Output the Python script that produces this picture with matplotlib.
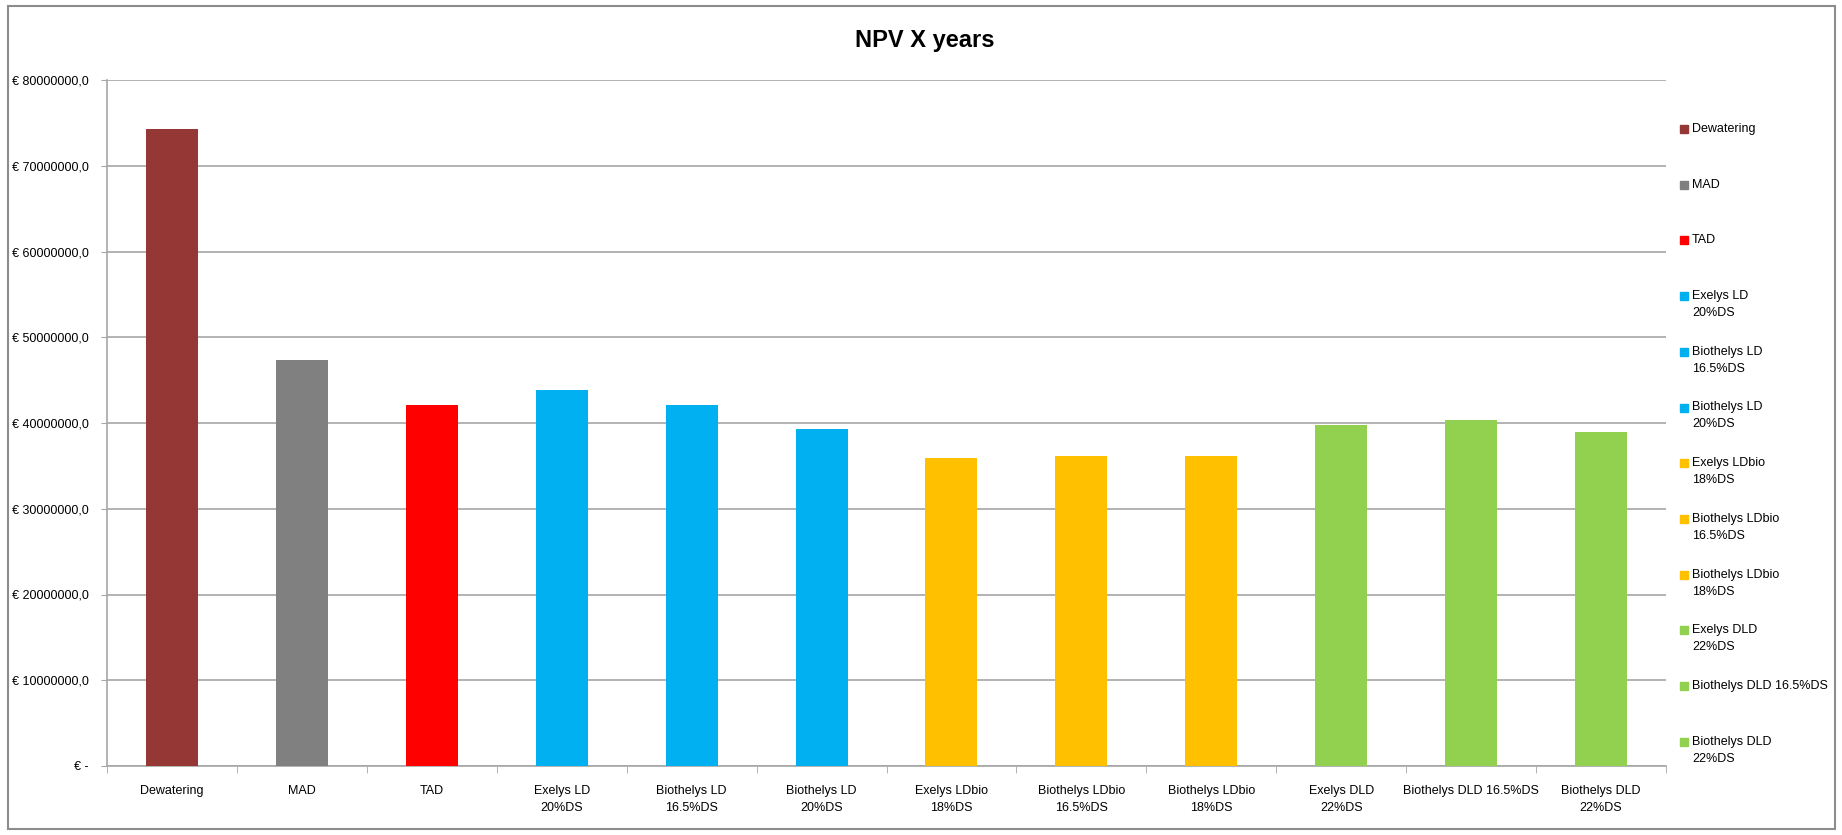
import matplotlib
matplotlib.use("Agg")
import matplotlib.pyplot as plt
from matplotlib.patches import Rectangle
from matplotlib.ticker import FuncFormatter, MultipleLocator
import numpy as np

plt.rcParams['font.family'] = ['Liberation Sans', 'DejaVu Sans']

# Data
categories = ["Dewatering", "MAD", "TAD",
              "Exelys LD\n20%DS", "Biothelys LD\n16.5%DS", "Biothelys LD\n20%DS",
              "Exelys LDbio\n18%DS", "Biothelys LDbio\n16.5%DS", "Biothelys LDbio\n18%DS",
              "Exelys DLD\n22%DS", "Biothelys DLD 16.5%DS", "Biothelys DLD\n22%DS"]
npv = [74.3e6, 47.4e6, 42.1e6,
       43.85e6, 42.1e6, 39.3e6,
       35.9e6, 36.2e6, 36.1e6,
       39.8e6, 40.4e6, 38.95e6]
colors = ["#953735", "#808080", "#FF0000",
          "#00B0F0", "#00B0F0", "#00B0F0",
          "#FFC000", "#FFC000", "#FFC000",
          "#92D050", "#92D050", "#92D050"]

grid_col = "#a6a6a6"
fs = 9

fig = plt.figure(figsize=(18.42, 8.35), dpi=100)
ax = fig.add_axes([107 / 1842, 1 - 766 / 835, (1666 - 107) / 1842, (766 - 80) / 835])

x = np.arange(len(categories))
ax.bar(x, npv, width=0.4, color=colors, zorder=3)

ax.set_xlim(-0.5, len(categories) - 0.5)
ax.set_ylim(0, 80e6)
ax.yaxis.set_major_locator(MultipleLocator(10e6))


def euro(v, pos):
    if v == 0:
        return "€ -"
    return "€ " + f"{v:.1f}".replace(".", ",")


ax.yaxis.set_major_formatter(FuncFormatter(euro))
ax.grid(axis="y", color=grid_col, linewidth=1.2, zorder=0)

ax.set_xticks(x)
ax.set_xticklabels(categories, fontsize=fs, linespacing=1.55)
ax.set_xticks(np.arange(-0.5, len(categories)), minor=True)
ax.tick_params(axis="x", which="major", length=0, pad=14)
ax.tick_params(axis="x", which="minor", length=5, color=grid_col, direction="out")
ax.tick_params(axis="y", length=4, color=grid_col, pad=9, labelsize=fs)

for side in ["top", "right"]:
    ax.spines[side].set_visible(False)
for side in ["left", "bottom"]:
    ax.spines[side].set_color(grid_col)
    ax.spines[side].set_linewidth(1.2)

fig.text(925 / 1842, 1 - 41 / 835, "NPV X years", ha="center", va="center",
         fontsize=17, fontweight="bold")

# legend drawn Excel-style, marker aligned with first text line
y0 = 130
step = 55.7
for i, (lab, col) in enumerate(zip(categories, colors)):
    yc = y0 + i * step
    fig.patches.append(Rectangle((1680 / 1842, 1 - (yc + 3) / 835), 8 / 1842, 8 / 835,
                                 transform=fig.transFigure, color=col, figure=fig))
    fig.text(1692 / 1842, 1 - (yc - 7) / 835, lab, ha="left", va="top",
             fontsize=fs, linespacing=1.55)

# outer chart border
fig.patches.append(Rectangle((8 / 1842, 6 / 835), (1835 - 8) / 1842, (829 - 6) / 835,
                             transform=fig.transFigure, fill=False,
                             edgecolor="#8c8c8c", linewidth=1.5, figure=fig))

fig.savefig("out.png", dpi=100)
